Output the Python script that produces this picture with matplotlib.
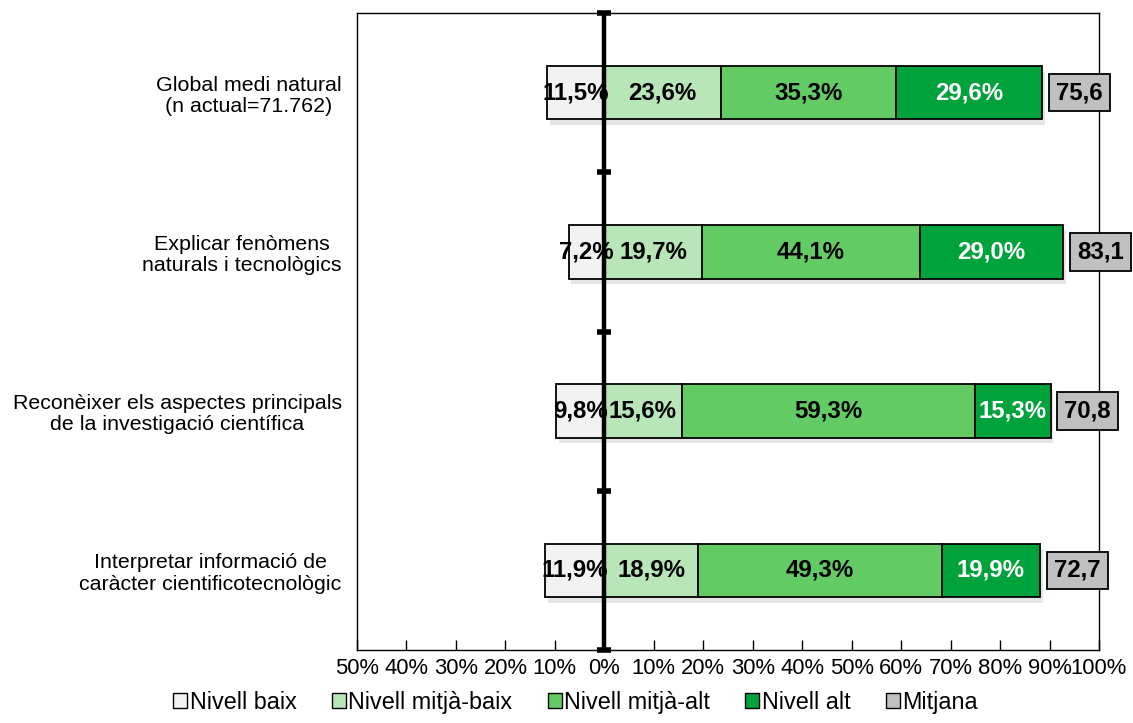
import matplotlib
matplotlib.use("Agg")
import matplotlib.pyplot as plt
from matplotlib.patches import Patch
import matplotlib.patheffects as pe

plt.rcParams['font.family'] = ['Liberation Sans', 'DejaVu Sans']

categories = ["Global medi natural\n(n actual=71.762)",
              "Explicar fenòmens\nnaturals i tecnològics",
              "Reconèixer els aspectes principals\nde la investigació científica",
              "Interpretar informació de\ncaràcter cientificotecnològic"]
baix = [11.5, 7.2, 9.8, 11.9]
mitja_baix = [23.6, 19.7, 15.6, 18.9]
mitja_alt = [35.3, 44.1, 59.3, 49.3]
alt = [29.6, 29.0, 15.3, 19.9]
mitjana = [75.6, 83.1, 70.8, 72.7]
series_names = ["Nivell baix", "Nivell mitjà-baix", "Nivell mitjà-alt", "Nivell alt", "Mitjana"]
colors = ["#F2F2F2", "#B8E6B8", "#63CB63", "#00A23C", "#C0C0C0"]
text_colors = ["black", "black", "black", "white"]
xticks = list(range(-50, 101, 10))

LBL = 17.3

fig = plt.figure(figsize=(11.33, 7.23), dpi=100)
ax = fig.add_axes([357/1133, 1-650/723, 742/1133, (650-13)/723])

n = len(categories)
ypos = [n-1-i for i in range(n)]
h = 0.335
shadow = [pe.SimplePatchShadow(offset=(2, -4), alpha=0.2, shadow_rgbFace='gray'), pe.Normal()]

def fmt(v):
    return f"{v:.1f}".replace(".", ",")

# low level drawn to the left of zero
ax.barh(ypos, [-v for v in baix], height=h, color=colors[0], edgecolor='black', lw=1.3, zorder=2,
        path_effects=shadow)
for y, v in zip(ypos, baix):
    ax.text(-v/2, y, fmt(v)+"%", ha='center', va='center', fontsize=LBL, fontweight='bold',
            color=text_colors[0], zorder=6)

left = [0]*n
for vals, col, tc in zip([mitja_baix, mitja_alt, alt], colors[1:4], text_colors[1:4]):
    ax.barh(ypos, vals, left=left, height=h, color=col, edgecolor='black', lw=1.3, zorder=2,
            path_effects=shadow)
    for y, l, v in zip(ypos, left, vals):
        ax.text(l+v/2, y, fmt(v)+"%", ha='center', va='center', fontsize=LBL, fontweight='bold',
                color=tc, zorder=6)
    left = [l+v for l, v in zip(left, vals)]

for y, l, m in zip(ypos, left, mitjana):
    ax.annotate(fmt(m), xy=(l, y), xytext=(10, 0), textcoords='offset points',
                ha='left', va='center', fontsize=LBL, fontweight='bold', color='black',
                bbox=dict(boxstyle='square,pad=0.3', fc=colors[4], ec='black', lw=1.3),
                annotation_clip=False, zorder=7)

# zero axis
ax.axvline(0, color='black', lw=3.2, zorder=5)
ax.plot([0]*(n+1), [i-0.5 for i in range(n+1)], ls='none', marker='_', ms=10, mew=4,
        color='black', zorder=5, clip_on=False)

ax.set_xlim(-50, 100)
ax.set_ylim(-0.5, n-0.5)
ax.set_xticks(xticks)
ax.set_xticklabels([f"{abs(t)}%" for t in xticks], fontsize=15.8)
ax.tick_params(axis='x', direction='in', length=7, width=1, pad=6)
ax.set_yticks(ypos)
ax.set_yticklabels(categories, fontsize=15.4, multialignment='center', linespacing=1.15)
ax.tick_params(axis='y', length=0, pad=11)
for s in ax.spines.values():
    s.set_linewidth(1)
    s.set_color('black')

handles = [Patch(facecolor=c, edgecolor='black', lw=1) for c in colors]
fig.legend(handles, series_names, loc='lower center', bbox_to_anchor=(0.508, -0.016), ncol=5,
           frameon=False, fontsize=16.8, handlelength=0.6, handleheight=0.6,
           handletextpad=0.12, columnspacing=1.5)

fig.savefig("out.png", dpi=100)
